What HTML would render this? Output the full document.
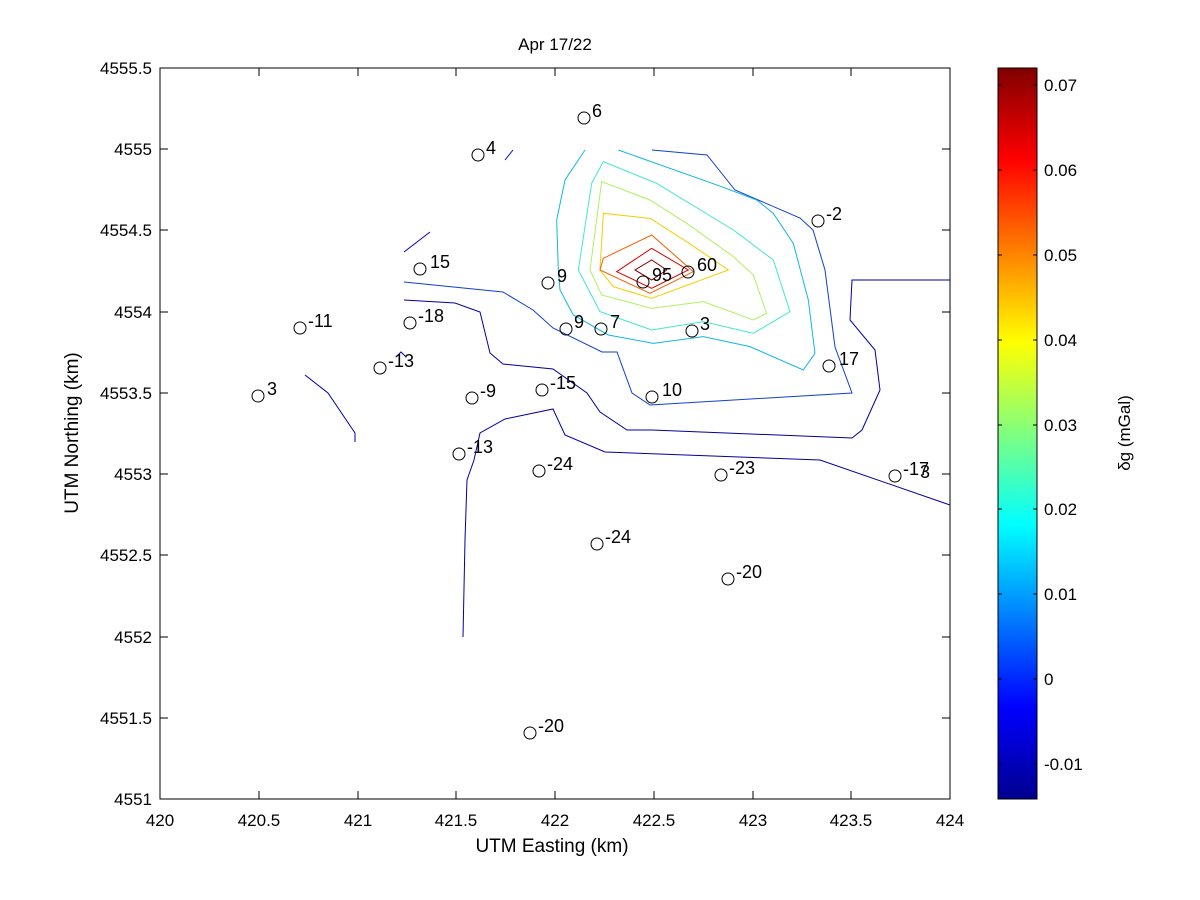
<!DOCTYPE html>
<html><head><meta charset="utf-8"><style>body{margin:0;background:#fff}svg{display:block}text{font-family:"Liberation Sans",sans-serif;fill:#000}</style></head><body>
<svg width="1200" height="900" xmlns="http://www.w3.org/2000/svg">
<defs><linearGradient id="jet" x1="0" y1="1" x2="0" y2="0">
<stop offset="0" stop-color="#00008f"/><stop offset="0.125" stop-color="#0000ff"/><stop offset="0.375" stop-color="#00ffff"/><stop offset="0.625" stop-color="#ffff00"/><stop offset="0.875" stop-color="#ff0000"/><stop offset="1" stop-color="#800000"/></linearGradient></defs>
<rect x="160" y="68" width="790" height="731" fill="#fff" stroke="#000"/>
<g fill="none" stroke-width="1">
<polyline stroke="#0000cc" points="404,252 430,232"/>
<polyline stroke="#0000cc" points="505,160 513,150"/>
<polyline stroke="#0000aa" points="305,375 328,393 355,433 355,442"/>
<polyline stroke="#0000aa" points="397,356 401,352 405,356"/>
<polyline stroke="#1040d0" points="404,282 503,292 533,310 553,328 602,352 617,352 632,393 650,405 852,393 835,347 825,270 813,230 800,218 735,190 707,155 652,150"/>
<polyline stroke="#0000a0" points="404,300 455,303 480,312 490,353 503,364 553,369 587,393 600,412 627,430 652,430 852,438 862,430 880,390 875,350 850,320 852,280 950,280"/>
<polyline stroke="#0000a0" points="463,637 465,540 467,480 474,460 480,433 505,419 553,409 565,435 605,452 820,460 950,505"/>
<g transform="translate(540,130) scale(0.3333)">
<polyline vector-effect="non-scaling-stroke" stroke="#10b8e0" points="135,60 75,150 50,270 55,420 60,480 100,555 205,615 340,640 490,620 630,650 790,720 825,670 805,510 760,340 700,250 650,210 545,170 235,60"/>
<polygon vector-effect="non-scaling-stroke" stroke="#40e8d0" points="190,95 155,160 115,420 180,545 335,600 490,575 640,610 750,545 700,390 580,300 350,160"/>
<polygon vector-effect="non-scaling-stroke" stroke="#b0f060" points="185,155 150,420 185,495 335,535 490,515 640,570 680,550 640,435 580,380 440,280 330,210"/>
<polygon vector-effect="non-scaling-stroke" stroke="#f0d000" points="190,250 180,420 220,470 335,505 565,420 440,335 330,265"/>
<polygon vector-effect="non-scaling-stroke" stroke="#f06000" points="190,385 180,420 330,490 460,425 335,315"/>
<polygon vector-effect="non-scaling-stroke" stroke="#d80000" points="230,425 335,355 445,420 335,475"/>
<polygon vector-effect="non-scaling-stroke" stroke="#900000" points="285,420 335,390 380,420 335,450"/>
</g>
</g>
<g fill="none" stroke="#000">
<circle cx="478" cy="155" r="6"/><circle cx="584" cy="118" r="6"/><circle cx="818" cy="221" r="6"/><circle cx="420" cy="269" r="6"/><circle cx="548" cy="283" r="6"/><circle cx="643" cy="282" r="6"/><circle cx="688" cy="272" r="6"/><circle cx="300" cy="328" r="6"/><circle cx="410" cy="323" r="6"/><circle cx="566" cy="329" r="6"/><circle cx="601" cy="329" r="6"/><circle cx="692" cy="331" r="6"/><circle cx="380" cy="368" r="6"/><circle cx="258" cy="396" r="6"/><circle cx="472" cy="398" r="6"/><circle cx="542" cy="390" r="6"/><circle cx="652" cy="397" r="6"/><circle cx="829" cy="366" r="6"/><circle cx="459" cy="454" r="6"/><circle cx="539" cy="471" r="6"/><circle cx="721" cy="475" r="6"/><circle cx="895" cy="476" r="6"/><circle cx="597" cy="544" r="6"/><circle cx="728" cy="579" r="6"/><circle cx="530" cy="733" r="6"/>
</g>
<g font-size="18">
<text x="486" y="154">4</text><text x="592" y="117">6</text><text x="826" y="220">-2</text><text x="430" y="268">15</text><text x="557" y="282">9</text><text x="652" y="281">95</text><text x="697" y="271">60</text><text x="308" y="327">-11</text><text x="418" y="322">-18</text><text x="574" y="328">9</text><text x="610" y="328">7</text><text x="700" y="330">3</text><text x="388" y="367">-13</text><text x="267" y="395">3</text><text x="480" y="397">-9</text><text x="550" y="389">-15</text><text x="662" y="396">10</text><text x="839" y="365">17</text><text x="467" y="453">-13</text><text x="547" y="470">-24</text><text x="729" y="474">-23</text><text x="903" y="475">-17</text><text x="920" y="478">3</text><text x="605" y="543">-24</text><text x="736" y="578">-20</text><text x="538" y="732">-20</text>
</g>
<g stroke="#000">
<path d="M160,799v-8M160,68v8M259,799v-8M259,68v8M358,799v-8M358,68v8M456,799v-8M456,68v8M555,799v-8M555,68v8M654,799v-8M654,68v8M753,799v-8M753,68v8M851,799v-8M851,68v8M950,799v-8M950,68v8"/>
<path d="M160,68h8M950,68h-8M160,149h8M950,149h-8M160,230h8M950,230h-8M160,312h8M950,312h-8M160,393h8M950,393h-8M160,474h8M950,474h-8M160,555h8M950,555h-8M160,637h8M950,637h-8M160,718h8M950,718h-8M160,799h8M950,799h-8"/>
</g>
<g font-size="17" text-anchor="middle">
<text x="160" y="826">420</text><text x="259" y="826">420.5</text><text x="358" y="826">421</text><text x="456" y="826">421.5</text><text x="555" y="826">422</text><text x="654" y="826">422.5</text><text x="753" y="826">423</text><text x="851" y="826">423.5</text><text x="950" y="826">424</text>
<text x="552" y="852" font-size="19">UTM Easting (km)</text>
<text x="555" y="50" font-size="17">Apr 17/22</text>
</g>
<g font-size="17" text-anchor="end">
<text x="152" y="74">4555.5</text><text x="152" y="155">4555</text><text x="152" y="236">4554.5</text><text x="152" y="318">4554</text><text x="152" y="399">4553.5</text><text x="152" y="480">4553</text><text x="152" y="561">4552.5</text><text x="152" y="643">4552</text><text x="152" y="724">4551.5</text><text x="152" y="805">4551</text>
</g>
<text transform="translate(78,433) rotate(-90)" font-size="19" text-anchor="middle">UTM Northing (km)</text>
<rect x="998" y="68" width="39" height="731" fill="url(#jet)" stroke="#000"/>
<g stroke="#000"><path d="M998,85h4M1037,85h-4M998,170h4M1037,170h-4M998,255h4M1037,255h-4M998,340h4M1037,340h-4M998,425h4M1037,425h-4M998,509h4M1037,509h-4M998,594h4M1037,594h-4M998,679h4M1037,679h-4M998,764h4M1037,764h-4"/></g>
<g font-size="17">
<text x="1044" y="91">0.07</text><text x="1044" y="176">0.06</text><text x="1044" y="261">0.05</text><text x="1044" y="346">0.04</text><text x="1044" y="431">0.03</text><text x="1044" y="515">0.02</text><text x="1044" y="600">0.01</text><text x="1044" y="685">0</text><text x="1044" y="770">-0.01</text>
</g>
<text transform="translate(1130,433) rotate(-90)" font-size="17" text-anchor="middle">δg (mGal)</text>
</svg>
</body></html>
